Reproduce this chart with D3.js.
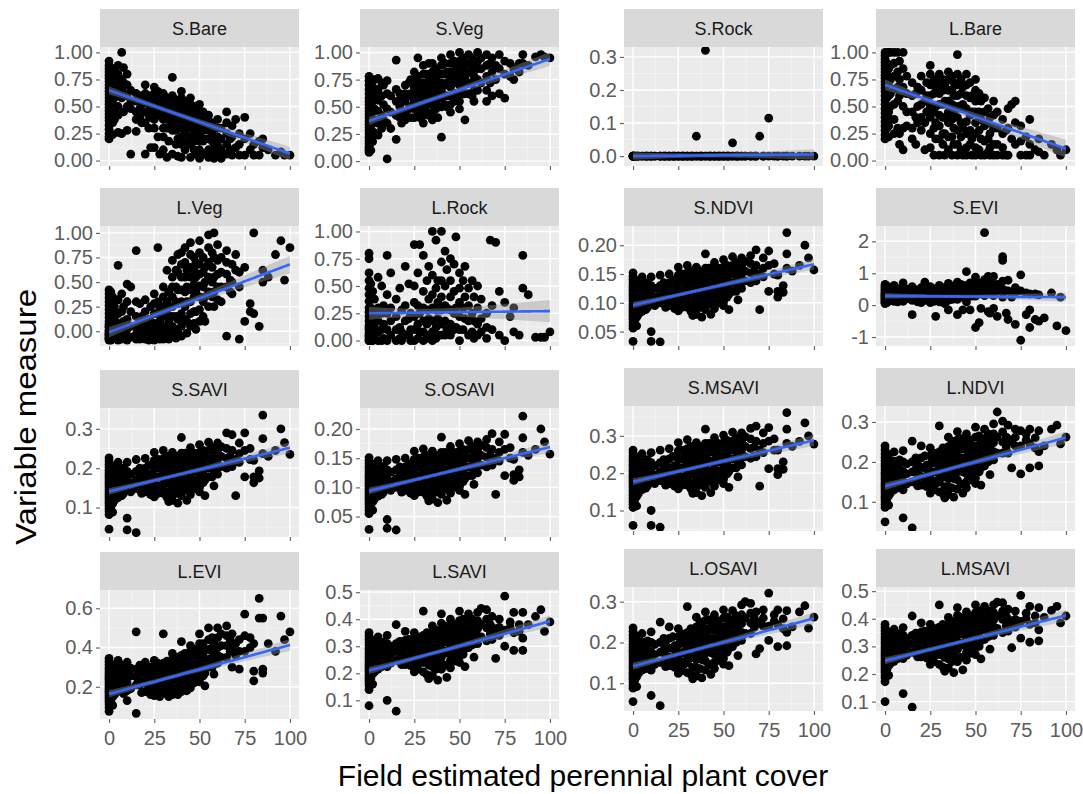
<!DOCTYPE html>
<html><head><meta charset="utf-8">
<script src="https://cdn.jsdelivr.net/npm/d3@7"></script>
<style>
html,body{margin:0;padding:0;background:#fff;}
svg{display:block;font-family:"Liberation Sans",Arial,Helvetica,sans-serif;}
</style></head><body>
<svg id="chart" width="1083" height="794"></svg>
<script>
// Field estimated perennial plant cover (%) levels at which plots were sampled
const coverLevels = [0,1,2,3,5,7,8,10,12,15,17,18,20,22,23,25,27,28,30,32,33,35,37,38,40,42,43,45,47,48,50,52,53,55,57,58,60,62,65,67,68,70,72,75,78,80,83,85,88,92,95,97,100];

const panelNames = ["S.Bare","S.Veg","S.Rock","L.Bare","L.Veg","L.Rock","S.NDVI","S.EVI","S.SAVI","S.OSAVI","S.MSAVI","L.NDVI","L.EVI","L.SAVI","L.OSAVI","L.MSAVI"];

// Variable measures: one inner list per cover level, in coverLevels order
const sBare = [
[0.92,0.88,0.85,0.82,0.79,0.76,0.73,0.70,0.67,0.64,0.61,0.58,0.55,0.52,0.49,0.46,0.43,0.40,0.37,0.33,0.29,0.25,0.22,0.20],[0.86,0.80,0.72,0.65,0.56,0.48,0.40],[0.78,0.70,0.62,0.52,0.44,0.35,0.24],[0.84,0.74,0.66,0.58,0.47,0.38],[0.88,0.80,0.70,0.60,0.50,0.42,0.26],[1.00,0.75,0.66,0.58,0.25],[0.86,0.72,0.62,0.45],[0.80,0.70,0.60,0.50,0.28],[0.06,0.65,0.55,0.48],[0.62,0.55,0.45,0.38,0.27],
[0.55,0.48,0.40],[0.60,0.52,0.35],[0.70,0.62,0.55,0.45,0.35,0.06],[0.60,0.52,0.42,0.30],[0.55,0.48,0.40,0.12],[0.68,0.62,0.56,0.50,0.44,0.38,0.30,0.12],[0.64,0.58,0.50,0.42,0.22],[0.60,0.52,0.45,0.06],[0.62,0.56,0.50,0.44,0.38,0.30,0.22,0.10],[0.58,0.52,0.46,0.38,0.30,0.03],
[0.55,0.48,0.40,0.30,0.18],[0.77,0.60,0.54,0.48,0.42,0.35,0.28,0.06],[0.56,0.50,0.44,0.36,0.28,0.15],[0.52,0.46,0.40,0.30,0.20,0.04],[0.64,0.58,0.50,0.44,0.38,0.30,0.22,0.15,0.03],[0.55,0.48,0.42,0.34,0.26,0.10],[0.45,0.38,0.30,0.18],[0.58,0.52,0.45,0.38,0.30,0.22,0.15,0.03],[0.50,0.42,0.35,0.27,0.18,0.10],[0.40,0.32,0.22,0.06],
[0.52,0.46,0.38,0.32,0.25,0.18,0.10,0.02],[0.45,0.38,0.28,0.18],[0.40,0.30,0.20,0.06],[0.42,0.36,0.28,0.20,0.10,0.03],[0.35,0.26,0.18,0.08],[0.30,0.22,0.12,0.02],[0.38,0.30,0.22,0.14,0.05],[0.30,0.20,0.10,0.02],[0.45,0.35,0.25,0.15,0.06],[0.20,0.10],
[0.32,0.22,0.05],[0.38,0.12],[0.25,0.15,0.05],[0.40,0.20,0.05],[0.25,0.10],[0.15,0.05],[0.18,0.05],[0.12,0.20],[0.10],[0.05],
[0.08],[0.05],[0.05]];

const sVeg = [
[0.78,0.74,0.70,0.66,0.62,0.58,0.55,0.52,0.49,0.46,0.43,0.40,0.37,0.34,0.31,0.28,0.25,0.22,0.19,0.16,0.13,0.10,0.08,0.12],[0.72,0.60,0.50,0.42,0.32,0.22,0.10],[0.68,0.55,0.45,0.36,0.27,0.18],[0.75,0.62,0.48,0.38,0.26],[0.76,0.66,0.56,0.46,0.35,0.24],[0.72,0.60,0.42,0.30],[0.70,0.52,0.38],[0.74,0.62,0.48,0.35,0.02],[0.60,0.45,0.30],[0.93,0.66,0.55,0.42,0.20],
[0.62,0.50,0.40],[0.58,0.45,0.35],[0.70,0.62,0.55,0.45,0.38],[0.72,0.60,0.48],[0.75,0.62,0.50,0.40],[0.82,0.75,0.68,0.62,0.55,0.48,0.40],[0.95,0.78,0.65,0.55,0.45],[0.72,0.62,0.50,0.40],[0.88,0.80,0.72,0.65,0.58,0.50,0.42,0.35],[0.80,0.72,0.62,0.52,0.45],
[0.90,0.78,0.65,0.55,0.42],[0.90,0.82,0.75,0.68,0.60,0.52,0.45,0.38],[0.85,0.75,0.65,0.55,0.48],[0.80,0.70,0.60,0.50,0.40],[0.95,0.88,0.80,0.72,0.65,0.58,0.50,0.22],[0.90,0.80,0.70,0.60,0.52],[0.82,0.72,0.60,0.50],[0.98,0.90,0.82,0.75,0.68,0.60,0.52,0.45],[0.92,0.82,0.72,0.62,0.55],[0.88,0.75,0.62],
[1.00,0.92,0.85,0.78,0.70,0.62,0.55,0.48],[0.95,0.85,0.72,0.62],[0.90,0.78,0.62,0.38],[0.98,0.90,0.82,0.72,0.62],[0.95,0.85,0.72,0.60],[0.90,0.78,0.65,0.55],[1.00,0.92,0.85,0.75,0.65],[0.95,0.85,0.72],[0.98,0.88,0.78,0.65,0.55],[0.90,0.72],
[0.95,0.82,0.60],[0.88,0.75],[0.98,0.85,0.62],[0.92,0.80,0.58],[0.90,0.78],[0.85,0.75],[0.82,0.90],[0.98,0.90],[0.88],[0.96],
[0.98],[0.96],[0.95]];

const sRock = [
[0,0,0,0,0,0],[0,0],[0,0],[0,0],[0,0],[0,0],[0,0],[0,0,0],[0,0],[0,0,0],
[0,0],[0,0],[0,0,0],[0,0],[0,0],[0,0,0],[0,0],[0,0],[0,0,0],[0,0],
[0,0],[0.06,0,0],[0,0],[0,0],[0.32,0,0],[0,0],[0,0],[0,0,0],[0,0],[0,0],
[0,0,0],[0,0],[0,0],[0.04,0,0],[0,0],[0,0],[0,0],[0,0],[0,0],[0],
[0,0],[0.06],[0,0],[0.115,0],[0],[0,0],[0],[0,0],[0],[0],
[0],[0],[0]];

const lBare = [
[1.00,0.97,0.94,0.91,0.88,0.85,0.82,0.79,0.76,0.73,0.70,0.67,0.64,0.60,0.56,0.52,0.48,0.44,0.40,0.36,0.32,0.28,0.24,0.20],[1.00,0.90,0.80,0.70,0.58,0.45,0.30],[1.00,0.85,0.72,0.60,0.45,0.32,0.22],[1.00,0.88,0.75,0.62,0.50,0.38],[1.00,0.90,0.78,0.66,0.52,0.38,0.25],[1.00,0.82,0.68,0.55,0.30],[0.92,0.75,0.60,0.25,0.15],[1.00,0.85,0.68,0.50,0.30,0.10],[0.78,0.62,0.45,0.32],[0.72,0.60,0.45,0.30,0.20],
[0.62,0.40,0.15],[0.68,0.50,0.35],[0.78,0.65,0.52,0.40,0.28],[0.55,0.35,0.10],[0.72,0.60,0.45],[0.88,0.80,0.70,0.60,0.50,0.40,0.25,0.12],[0.75,0.62,0.45,0.30,0.05],[0.68,0.50,0.35,0.20],[0.80,0.72,0.62,0.52,0.42,0.32,0.20,0.05],[0.75,0.65,0.52,0.40,0.25,0.15],
[0.70,0.55,0.40,0.25,0.05],[0.82,0.75,0.65,0.55,0.45,0.35,0.22,0.10],[0.78,0.65,0.52,0.38,0.22,0.05],[0.72,0.60,0.45,0.30,0.15],[0.98,0.80,0.70,0.60,0.50,0.40,0.28,0.15,0.05],[0.75,0.62,0.48,0.35,0.22,0.10],[0.68,0.52,0.30,0.05],[0.80,0.70,0.60,0.48,0.36,0.25,0.12,0.05],[0.72,0.58,0.42,0.28,0.15],[0.60,0.45,0.20,0.05],
[0.75,0.65,0.55,0.45,0.35,0.25,0.12,0.05],[0.62,0.45,0.28,0.10],[0.55,0.38,0.20,0.05],[0.58,0.45,0.32,0.18,0.05],[0.48,0.35,0.20,0.08],[0.40,0.25,0.12,0.05],[0.55,0.42,0.30,0.15,0.05],[0.45,0.30,0.15,0.05],[0.38,0.25,0.12,0.05],[0.28,0.05],
[0.48,0.30,0.05],[0.52,0.20],[0.55,0.35,0.15],[0.32,0.18,0.05],[0.22,0.05],[0.38,0.15,0.05],[0.10],[0.20,0.08],[0.05],[0.15],
[0.10],[0.05],[0.10]];

const lVeg = [
[0.42,0.38,0.34,0.30,0.26,0.22,0.18,0.14,0.10,0.07,0.04,0.01,-0.02,-0.04,-0.06,-0.08,-0.09,0.05,0.00,-0.03,-0.07],[0.40,0.28,0.15,0.05,-0.02,-0.06,-0.09],[0.35,0.22,0.10,0.02,-0.04,-0.08],[0.25,0.12,0.03,-0.03,-0.07],[0.67,0.32,0.18,0.08,0.00,-0.05,-0.09],[0.38,0.20,0.05,-0.03,-0.08],[0.25,0.10,-0.02,-0.07],[0.48,0.30,0.12,0.02,-0.05,-0.09],[0.45,0.20,0.05,-0.06],[0.82,0.30,0.15,0.04,-0.03,-0.08],
[0.28,0.08,-0.04,-0.08],[0.15,0.02,-0.06],[0.32,0.20,0.08,-0.02,-0.08],[0.12,0.02,-0.05,-0.09],[0.25,0.10,-0.03,-0.08],[0.38,0.28,0.18,0.08,0.00,-0.05,-0.09],[0.85,0.30,0.18,0.05,-0.06],[0.22,0.10,-0.02,-0.08],[0.45,0.35,0.25,0.15,0.05,-0.03,-0.08],[0.62,0.30,0.18,0.05,-0.05],
[0.40,0.25,0.10,-0.02,-0.08],[0.72,0.55,0.45,0.35,0.25,0.15,0.05,-0.04],[0.62,0.45,0.30,0.15,0.02,-0.07],[0.78,0.60,0.42,0.28,0.12,0.00],[0.80,0.68,0.55,0.42,0.30,0.18,0.05,-0.05],[0.85,0.70,0.55,0.40,0.25,0.12],[0.62,0.45,0.30,0.10,-0.02],[0.90,0.78,0.65,0.55,0.42,0.30,0.18,0.05],[0.75,0.62,0.48,0.35,0.20,0.08],[0.70,0.55,0.40,0.20,0.02],
[0.92,0.80,0.68,0.58,0.46,0.35,0.22,0.10],[0.75,0.60,0.45,0.30,0.15],[0.65,0.50,0.35,0.10],[0.98,0.85,0.70,0.55,0.40,0.25],[0.80,0.65,0.50,0.35],[1.00,0.75,0.55,0.40,0.25],[0.88,0.72,0.58,0.45,0.32],[0.75,0.60,0.45,0.30],[0.82,0.70,0.58,0.45,-0.05],[0.52,0.40],
[0.68,0.50,0.38],[0.78,0.62],[0.60,0.45,-0.08],[0.65,0.10],[0.28,0.20],[1.00,0.18],[0.05],[0.62,0.50],[0.55],[0.78],
[0.92],[0.52],[0.85]];

const lRock = [
[0.80,0.75,0.62,0.55,0.48,0.42,0.36,0.30,0.26,0.22,0.18,0.14,0.10,0.07,0.04,0.02,0.00,0.00,0.12,0.05],[0.52,0.30,0.20,0.10,0.03,0.00],[0.45,0.25,0.15,0.05,0.00],[0.38,0.22,0.12,0.02],[0.58,0.30,0.18,0.08,0.00],[0.50,0.25,0.10,0.00],[0.32,0.15,0.02],[0.78,0.42,0.25,0.10,0.00],[0.62,0.30,0.18,0.05],[0.38,0.22,0.10,0.00],
[0.48,0.12,0.02],[0.28,0.08,0.00],[0.68,0.32,0.18,0.05],[0.52,0.20,0.05],[0.25,0.10,0.00],[0.88,0.50,0.35,0.22,0.10,0.00],[0.62,0.32,0.15,0.02],[0.88,0.25,0.08],[0.78,0.45,0.30,0.18,0.08,0.00],[0.55,0.28,0.15,0.02],
[0.68,0.38,0.20,0.05],[1.00,0.60,0.42,0.30,0.18,0.08,0.00],[0.92,0.48,0.28,0.12,0.02],[0.55,0.35,0.20,0.05],[1.00,0.72,0.55,0.40,0.28,0.15,0.05],[0.82,0.50,0.32,0.18,0.05],[0.65,0.30,0.10],[0.75,0.55,0.40,0.28,0.15,0.05],[0.70,0.45,0.25,0.10],[0.95,0.30,0.12],
[0.62,0.48,0.35,0.22,0.10,0.00],[0.55,0.30,0.10],[0.68,0.40,0.20],[0.48,0.32,0.18,0.05],[0.55,0.25,0.08],[0.40,0.18,0.02],[0.50,0.30,0.15,0.05],[0.38,0.20,0.08],[0.25,0.12,0.02],[0.92],
[0.32,0.10],[0.90],[0.45,0.05],[0.35,0.00],[0.22],[0.30,0.08],[0.05],[0.78,0.48],[0.42],[0.03],
[0.03],[0.03],[0.08]];

const sNdvi = [
[0.152,0.146,0.141,0.136,0.131,0.127,0.123,0.119,0.115,0.111,0.107,0.103,0.099,0.095,0.091,0.087,0.083,0.079,0.075,0.071,0.066,0.061,0.056,0.033],[0.140,0.128,0.118,0.108,0.098,0.085,0.070],[0.135,0.122,0.110,0.100,0.088,0.075,0.060],[0.130,0.118,0.105,0.095,0.080],[0.145,0.132,0.120,0.108,0.096,0.085],[0.130,0.115,0.100,0.088],[0.135,0.120,0.105,0.092],[0.145,0.130,0.115,0.100,0.050,0.033],[0.125,0.110,0.095],[0.148,0.130,0.115,0.100,0.032],
[0.135,0.118,0.100],[0.125,0.108,0.092],[0.150,0.135,0.122,0.108,0.095],[0.140,0.120,0.102],[0.125,0.108,0.090],[0.162,0.148,0.135,0.122,0.110,0.098,0.086],[0.150,0.135,0.120,0.105,0.092],[0.138,0.120,0.100],[0.165,0.152,0.140,0.128,0.116,0.104,0.092],[0.155,0.140,0.125,0.110,0.085],
[0.145,0.128,0.112,0.095,0.078],[0.162,0.150,0.138,0.126,0.114,0.102,0.090,0.080],[0.155,0.140,0.125,0.110,0.092],[0.148,0.132,0.116,0.100,0.075],[0.185,0.160,0.148,0.136,0.124,0.112,0.100,0.088],[0.160,0.145,0.130,0.115,0.098],[0.150,0.130,0.110,0.080],[0.170,0.158,0.146,0.134,0.122,0.110,0.098,0.090],[0.160,0.145,0.130,0.115,0.100],[0.150,0.132,0.115,0.105],
[0.175,0.162,0.150,0.138,0.126,0.114,0.102,0.095],[0.165,0.145,0.125,0.110],[0.155,0.135,0.115,0.088],[0.180,0.165,0.150,0.135,0.120],[0.170,0.152,0.135,0.120],[0.160,0.142,0.125,0.105],[0.178,0.165,0.150,0.138,0.125],[0.172,0.155,0.138],[0.182,0.168,0.152,0.135],[0.155,0.140],
[0.192,0.165,0.138],[0.088,0.150],[0.178,0.160,0.145],[0.190,0.165,0.120],[0.168,0.150],[0.148,0.120,0.110],[0.130,0.118],[0.222,0.185,0.160],[0.155],[0.165],
[0.200],[0.178],[0.157]];

const sEvi = [
[0.65,0.60,0.55,0.50,0.46,0.42,0.38,0.35,0.32,0.29,0.26,0.23,0.20,0.17,0.14,0.11,0.08,0.05],[0.60,0.48,0.38,0.28,0.18,0.08],[0.55,0.42,0.32,0.22,0.12],[0.50,0.38,0.26,0.15],[0.62,0.48,0.36,0.25,0.12],[0.52,0.38,0.22,0.10],[0.45,0.30,0.15],[0.70,0.52,0.38,0.25,0.12],[0.50,0.35,0.20],[0.58,0.42,0.28,0.15,-0.30],
[0.48,0.32,0.18],[0.40,0.25,0.10],[0.55,0.42,0.30,0.18,0.08],[0.72,0.40,0.22],[0.45,0.30,0.15],[0.58,0.48,0.38,0.28,0.18,0.08],[0.52,0.38,0.25,0.12],[0.42,0.28,-0.35],[0.62,0.50,0.40,0.30,0.20,0.10],[0.55,0.42,0.30,0.18],
[0.48,0.35,0.22,0.05],[0.68,0.55,0.45,0.35,0.25,0.15,-0.15],[0.55,0.42,0.30,0.18],[0.60,0.45,0.32,0.20],[0.72,0.60,0.48,0.38,0.28,0.18,-0.30],[0.65,0.50,0.38,0.25],[0.52,0.38,-0.15],[1.05,0.62,0.50,0.40,0.30,0.20,0.10],[0.70,0.55,0.42,-0.15],[0.58,0.42,0.28],
[0.88,0.65,0.52,0.40,0.28,-0.70],[0.70,0.50,0.35,-0.55],[0.55,0.40,-0.10],[2.27,0.80,0.60,0.45,0.30],[0.90,0.60,0.40,-0.20],[0.70,0.50,0.35,-0.25],[0.90,0.65,0.48,0.30,-0.10],[0.65,0.45,-0.35],[1.52,1.40,0.75,0.50,0.25],[0.45,-0.25],
[0.78,0.45,-0.45],[0.40,0.25],[0.55,0.40,-0.60],[0.95,0.45,-1.10],[0.38,-0.30],[0.35,-0.15,-0.70],[0.35,-0.45],[0.32,-0.50],[-0.40],[0.38],
[-0.65],[0.25],[-0.80]];

const sSavi = [
[0.226,0.218,0.210,0.202,0.195,0.188,0.182,0.176,0.170,0.164,0.158,0.152,0.146,0.140,0.134,0.128,0.122,0.116,0.110,0.104,0.097,0.090,0.082,0.045],[0.208,0.190,0.175,0.160,0.145,0.125,0.102],[0.200,0.180,0.162,0.148,0.130,0.110,0.088],[0.192,0.175,0.156,0.140,0.118],[0.215,0.195,0.178,0.160,0.142,0.125],[0.192,0.170,0.148,0.130],[0.200,0.178,0.155,0.136],[0.215,0.192,0.170,0.148,0.073,0.043],[0.185,0.162,0.140],[0.222,0.192,0.170,0.148,0.036],
[0.200,0.175,0.148],[0.185,0.160,0.136],[0.225,0.200,0.180,0.160,0.140],[0.208,0.178,0.150],[0.185,0.160,0.133],[0.240,0.220,0.200,0.180,0.162,0.145,0.127],[0.222,0.200,0.178,0.155,0.136],[0.205,0.178,0.148],[0.245,0.225,0.207,0.190,0.172,0.154,0.136],[0.230,0.207,0.185,0.163,0.126],
[0.215,0.190,0.166,0.140,0.115],[0.240,0.222,0.204,0.186,0.168,0.150,0.133,0.118],[0.230,0.207,0.185,0.163,0.136],[0.220,0.195,0.172,0.148,0.111],[0.278,0.238,0.220,0.202,0.184,0.166,0.148,0.130],[0.238,0.215,0.193,0.170,0.145],[0.222,0.193,0.163,0.118],[0.252,0.234,0.216,0.198,0.180,0.163,0.145,0.133],[0.238,0.215,0.193,0.170,0.148],[0.222,0.196,0.170,0.155],
[0.260,0.240,0.222,0.204,0.186,0.168,0.151,0.140],[0.245,0.215,0.185,0.163],[0.230,0.200,0.170,0.130],[0.266,0.245,0.222,0.200,0.178],[0.252,0.225,0.200,0.178],[0.238,0.210,0.185,0.155],[0.264,0.245,0.222,0.204,0.185],[0.255,0.230,0.204],[0.290,0.250,0.225,0.200],[0.230,0.207],
[0.285,0.245,0.204],[0.130,0.222],[0.264,0.237,0.215],[0.290,0.245,0.178],[0.250,0.222],[0.220,0.178,0.163],[0.193,0.175],[0.335,0.275,0.237],[0.230],[0.245],
[0.300],[0.265],[0.235]];

const sOsavi = [
[0.151,0.146,0.141,0.136,0.132,0.127,0.123,0.119,0.115,0.111,0.107,0.103,0.099,0.095,0.091,0.087,0.083,0.079,0.075,0.071,0.066,0.061,0.055,0.028],[0.141,0.128,0.118,0.108,0.098,0.085,0.071],[0.136,0.122,0.110,0.100,0.088,0.075,0.061],[0.131,0.118,0.105,0.095,0.080],[0.146,0.132,0.120,0.108,0.096,0.085],[0.131,0.115,0.100,0.088],[0.136,0.120,0.105,0.092],[0.146,0.130,0.115,0.100,0.045,0.030],[0.126,0.110,0.095],[0.148,0.130,0.115,0.100,0.027],
[0.135,0.118,0.100],[0.126,0.108,0.092],[0.150,0.135,0.122,0.108,0.095],[0.140,0.120,0.102],[0.126,0.108,0.090],[0.162,0.148,0.135,0.122,0.110,0.098,0.086],[0.150,0.135,0.120,0.105,0.092],[0.138,0.120,0.100],[0.166,0.152,0.140,0.128,0.116,0.104,0.092],[0.155,0.140,0.125,0.110,0.085],
[0.145,0.128,0.112,0.095,0.077],[0.162,0.150,0.138,0.126,0.114,0.102,0.090,0.080],[0.155,0.140,0.125,0.110,0.092],[0.148,0.132,0.116,0.100,0.074],[0.186,0.160,0.148,0.136,0.124,0.112,0.100,0.088],[0.160,0.145,0.130,0.115,0.098],[0.150,0.130,0.110,0.078],[0.170,0.158,0.146,0.134,0.122,0.110,0.098,0.090],[0.160,0.145,0.130,0.115,0.100],[0.150,0.132,0.115,0.105],
[0.175,0.162,0.150,0.138,0.126,0.114,0.102,0.095],[0.165,0.145,0.125,0.110],[0.155,0.135,0.115,0.088],[0.180,0.165,0.150,0.135,0.120],[0.170,0.152,0.135,0.120],[0.160,0.142,0.125,0.105],[0.178,0.165,0.150,0.138,0.125],[0.172,0.155,0.138],[0.182,0.168,0.152,0.135],[0.155,0.140],
[0.192,0.165,0.138],[0.088,0.150],[0.178,0.160,0.145],[0.191,0.165,0.120],[0.168,0.150],[0.148,0.122,0.112],[0.130,0.118],[0.222,0.185,0.160],[0.155],[0.165],
[0.200],[0.178],[0.157]];

const sMsavi = [
[0.262,0.254,0.246,0.238,0.231,0.224,0.217,0.210,0.204,0.198,0.192,0.186,0.180,0.174,0.168,0.161,0.154,0.147,0.140,0.133,0.125,0.117,0.108,0.060],[0.245,0.225,0.208,0.192,0.175,0.155,0.130],[0.236,0.215,0.196,0.180,0.160,0.138,0.112],[0.228,0.208,0.188,0.170,0.146],[0.252,0.230,0.212,0.194,0.175,0.156],[0.226,0.204,0.180,0.160],[0.236,0.212,0.188,0.166],[0.255,0.228,0.204,0.180,0.100,0.060],[0.220,0.195,0.172],[0.262,0.228,0.204,0.180,0.055],
[0.236,0.210,0.180],[0.220,0.194,0.168],[0.266,0.238,0.215,0.194,0.172],[0.245,0.212,0.182],[0.220,0.194,0.165],[0.282,0.260,0.238,0.216,0.196,0.178,0.158],[0.262,0.238,0.214,0.190,0.168],[0.242,0.214,0.182],[0.290,0.266,0.246,0.226,0.206,0.188,0.168],[0.272,0.246,0.222,0.198,0.158],
[0.255,0.228,0.202,0.174,0.146],[0.282,0.262,0.242,0.222,0.202,0.184,0.165,0.148],[0.272,0.246,0.222,0.198,0.168],[0.260,0.234,0.208,0.182,0.140],[0.318,0.280,0.260,0.240,0.220,0.200,0.180,0.162],[0.280,0.255,0.230,0.205,0.178],[0.262,0.232,0.198,0.148],[0.295,0.275,0.255,0.235,0.215,0.196,0.178,0.165],[0.280,0.255,0.230,0.205,0.182],[0.262,0.234,0.205,0.188],
[0.302,0.282,0.262,0.242,0.222,0.202,0.184,0.172],[0.288,0.255,0.222,0.198],[0.270,0.238,0.205,0.162],[0.310,0.286,0.262,0.238,0.214],[0.295,0.266,0.238,0.214],[0.280,0.250,0.222,0.190],[0.308,0.286,0.262,0.242,0.222],[0.298,0.272,0.244],[0.320,0.292,0.266,0.240],[0.270,0.245],
[0.326,0.286,0.244],[0.165,0.262],[0.308,0.280,0.255],[0.322,0.286,0.212],[0.292,0.262],[0.262,0.212,0.196],[0.230,0.210],[0.362,0.318,0.280],[0.272],[0.285],
[0.335],[0.300],[0.278]];

const lNdvi = [
[0.240,0.230,0.220,0.211,0.203,0.195,0.188,0.181,0.174,0.168,0.162,0.156,0.150,0.144,0.138,0.132,0.126,0.120,0.114,0.108,0.101,0.094,0.086,0.050],[0.220,0.198,0.180,0.162,0.145,0.128,0.108],[0.210,0.190,0.170,0.152,0.135,0.115,0.092],[0.200,0.180,0.160,0.142,0.122],[0.225,0.202,0.182,0.165,0.148,0.130],[0.198,0.176,0.155,0.135],[0.205,0.182,0.160,0.140],[0.228,0.200,0.176,0.152,0.060,0.130],[0.195,0.170,0.145],[0.252,0.200,0.175,0.150,0.035],
[0.210,0.182,0.152],[0.195,0.168,0.140],[0.240,0.210,0.186,0.164,0.142],[0.215,0.185,0.155],[0.192,0.165,0.138],[0.235,0.215,0.195,0.176,0.158,0.140,0.122],[0.222,0.198,0.175,0.152,0.130],[0.205,0.175,0.145],[0.290,0.225,0.205,0.186,0.168,0.150,0.125],[0.235,0.210,0.186,0.162,0.120],
[0.218,0.192,0.165,0.138,0.110],[0.262,0.238,0.218,0.198,0.178,0.158,0.138,0.118],[0.252,0.226,0.200,0.175,0.135],[0.240,0.212,0.185,0.158,0.112],[0.276,0.255,0.235,0.215,0.195,0.175,0.155,0.132],[0.258,0.232,0.206,0.180,0.145],[0.240,0.210,0.175,0.122],[0.270,0.250,0.230,0.210,0.190,0.170,0.150,0.135],[0.255,0.230,0.205,0.180,0.155],[0.240,0.212,0.185,0.165],
[0.287,0.262,0.240,0.220,0.200,0.180,0.160,0.146],[0.265,0.235,0.205,0.175],[0.250,0.218,0.185,0.142],[0.282,0.258,0.234,0.210,0.190],[0.270,0.245,0.220,0.200],[0.258,0.232,0.205,0.168],[0.295,0.270,0.248,0.226,0.205],[0.325,0.262,0.222],[0.302,0.275,0.250,0.222],[0.262,0.238],
[0.292,0.258,0.222],[0.185,0.250],[0.282,0.262,0.240],[0.278,0.240,0.170],[0.270,0.255],[0.282,0.245,0.185],[0.260,0.235],[0.278,0.226,0.190],[0.240],[0.282],
[0.292],[0.245],[0.262]];

const lEvi = [
[0.345,0.330,0.315,0.300,0.288,0.276,0.265,0.254,0.244,0.234,0.224,0.214,0.204,0.195,0.186,0.177,0.168,0.158,0.148,0.138,0.126,0.112,0.095,0.075],[0.315,0.280,0.250,0.222,0.195,0.165,0.130],[0.300,0.268,0.238,0.210,0.180,0.150,0.105],[0.285,0.255,0.225,0.195,0.160],[0.335,0.300,0.268,0.238,0.208,0.178],[0.310,0.275,0.240,0.205],[0.300,0.262,0.225,0.165],[0.325,0.290,0.255,0.220,0.180,0.130],[0.295,0.255,0.190],[0.480,0.290,0.250,0.210,0.065],
[0.310,0.265,0.210],[0.290,0.245,0.170],[0.325,0.290,0.255,0.220,0.175],[0.300,0.255,0.200],[0.280,0.235,0.160],[0.335,0.305,0.275,0.245,0.215,0.185,0.155],[0.320,0.285,0.250,0.215,0.175],[0.300,0.250,0.150],[0.470,0.320,0.290,0.260,0.230,0.200,0.165],[0.330,0.295,0.260,0.225,0.180],
[0.310,0.270,0.230,0.190,0.150],[0.370,0.340,0.310,0.280,0.250,0.220,0.190,0.160],[0.350,0.310,0.270,0.230,0.185],[0.330,0.290,0.250,0.210,0.160],[0.430,0.360,0.330,0.300,0.270,0.240,0.210,0.175],[0.370,0.330,0.290,0.250,0.200],[0.340,0.290,0.240,0.180],[0.410,0.380,0.350,0.320,0.290,0.260,0.225,0.195],[0.390,0.350,0.310,0.270,0.220],[0.360,0.310,0.270,0.235],
[0.470,0.420,0.385,0.350,0.315,0.280,0.250,0.225],[0.420,0.370,0.310,0.255],[0.390,0.330,0.270,0.205],[0.500,0.440,0.390,0.340,0.300],[0.450,0.400,0.350,0.300],[0.420,0.370,0.320,0.265],[0.500,0.450,0.400,0.360,0.320],[0.470,0.410,0.350],[0.510,0.460,0.410,0.350],[0.440,0.380],
[0.470,0.400,0.300],[0.360,0.420],[0.440,0.380,0.290],[0.570,0.460,0.380],[0.450,0.400],[0.420,0.280,0.230],[0.650,0.550],[0.550,0.290,0.270],[0.420],[0.380],
[0.560],[0.440],[0.480]];

const lSavi = [
[0.350,0.338,0.326,0.314,0.303,0.293,0.283,0.273,0.264,0.255,0.246,0.238,0.230,0.222,0.214,0.206,0.198,0.190,0.182,0.174,0.165,0.155,0.140,0.080],[0.325,0.300,0.278,0.256,0.235,0.212,0.180],[0.315,0.290,0.266,0.244,0.222,0.198,0.160],[0.305,0.280,0.255,0.232,0.205],[0.335,0.308,0.284,0.260,0.238,0.215],[0.305,0.278,0.252,0.225],[0.315,0.288,0.260,0.232],[0.340,0.310,0.282,0.255,0.225,0.100],[0.300,0.270,0.238],[0.380,0.310,0.280,0.248,0.060],
[0.318,0.285,0.250],[0.300,0.268,0.232],[0.355,0.322,0.292,0.262,0.232],[0.325,0.290,0.252],[0.300,0.265,0.228],[0.350,0.325,0.300,0.276,0.252,0.228,0.205],[0.335,0.305,0.275,0.245,0.215],[0.315,0.280,0.240],[0.430,0.340,0.315,0.290,0.265,0.240,0.205],[0.350,0.320,0.290,0.260,0.195],
[0.330,0.298,0.265,0.230,0.180],[0.375,0.350,0.325,0.300,0.275,0.250,0.225,0.192],[0.360,0.330,0.300,0.270,0.215],[0.345,0.312,0.278,0.242,0.175],[0.420,0.385,0.360,0.335,0.310,0.285,0.258,0.215],[0.375,0.345,0.315,0.282,0.230],[0.355,0.318,0.275,0.185],[0.400,0.375,0.350,0.325,0.300,0.275,0.248,0.220],[0.380,0.350,0.318,0.285,0.245],[0.360,0.325,0.290,0.265],
[0.430,0.395,0.370,0.345,0.320,0.295,0.265,0.240],[0.400,0.360,0.318,0.270],[0.380,0.338,0.290,0.225],[0.420,0.390,0.360,0.330,0.295],[0.400,0.368,0.335,0.305],[0.380,0.345,0.310,0.260],[0.425,0.395,0.365,0.338,0.310],[0.440,0.380,0.335],[0.435,0.400,0.368,0.320],[0.380,0.345],
[0.410,0.370,0.325],[0.255,0.350],[0.400,0.370,0.340],[0.485,0.360,0.300],[0.390,0.370],[0.425,0.350,0.285],[0.380,0.355],[0.425,0.330,0.285],[0.380],[0.410],
[0.435],[0.355],[0.390]];

const lOsavi = [
[0.236,0.227,0.218,0.210,0.202,0.195,0.188,0.181,0.175,0.169,0.163,0.157,0.151,0.145,0.139,0.133,0.127,0.121,0.115,0.109,0.102,0.095,0.088,0.055],[0.218,0.198,0.180,0.163,0.146,0.128,0.108],[0.208,0.189,0.170,0.153,0.136,0.116,0.092],[0.200,0.180,0.161,0.143,0.124],[0.222,0.201,0.183,0.166,0.149,0.132],[0.198,0.177,0.156,0.136],[0.204,0.183,0.161,0.141],[0.226,0.200,0.177,0.153,0.070,0.132],[0.195,0.170,0.146],[0.250,0.200,0.176,0.151,0.045],
[0.210,0.182,0.153],[0.195,0.168,0.141],[0.238,0.210,0.186,0.164,0.143],[0.214,0.185,0.156],[0.192,0.165,0.139],[0.234,0.214,0.195,0.176,0.158,0.141,0.124],[0.221,0.198,0.175,0.153,0.131],[0.205,0.175,0.146],[0.288,0.224,0.205,0.186,0.168,0.150,0.126],[0.234,0.210,0.186,0.162,0.121],
[0.217,0.192,0.165,0.139,0.111],[0.262,0.238,0.218,0.198,0.178,0.158,0.138,0.118],[0.250,0.225,0.200,0.175,0.136],[0.238,0.212,0.185,0.158,0.113],[0.275,0.254,0.234,0.214,0.194,0.174,0.155,0.133],[0.256,0.231,0.206,0.180,0.146],[0.238,0.210,0.175,0.122],[0.268,0.249,0.229,0.209,0.189,0.170,0.151,0.136],[0.253,0.229,0.205,0.180,0.156],[0.238,0.212,0.185,0.166],
[0.280,0.260,0.239,0.219,0.199,0.180,0.161,0.147],[0.262,0.234,0.205,0.176],[0.248,0.217,0.185,0.143],[0.278,0.256,0.233,0.210,0.190],[0.266,0.243,0.220,0.200],[0.255,0.230,0.205,0.168],[0.292,0.268,0.246,0.225,0.205],[0.300,0.260,0.222],[0.296,0.272,0.248,0.222],[0.260,0.237],
[0.275,0.245,0.172],[0.185,0.250],[0.280,0.260,0.240],[0.321,0.240,0.205],[0.268,0.252],[0.280,0.244,0.190],[0.258,0.234],[0.278,0.225,0.192],[0.238],[0.275],
[0.290],[0.235],[0.262]];

const lMsavi = [
[0.380,0.368,0.356,0.345,0.334,0.324,0.314,0.305,0.296,0.287,0.278,0.270,0.262,0.254,0.246,0.238,0.230,0.222,0.214,0.205,0.196,0.186,0.172,0.100],[0.355,0.330,0.308,0.287,0.266,0.244,0.215],[0.345,0.320,0.297,0.275,0.253,0.230,0.195],[0.335,0.310,0.286,0.263,0.238],[0.362,0.336,0.313,0.290,0.268,0.246],[0.335,0.309,0.283,0.256],[0.345,0.318,0.290,0.262],[0.368,0.340,0.312,0.285,0.256,0.129],[0.330,0.300,0.268],[0.410,0.340,0.310,0.278,0.080],
[0.348,0.315,0.280],[0.330,0.298,0.262],[0.385,0.352,0.322,0.292,0.262],[0.355,0.320,0.282],[0.330,0.295,0.258],[0.380,0.355,0.330,0.306,0.282,0.258,0.235],[0.365,0.335,0.305,0.275,0.245],[0.345,0.310,0.270],[0.450,0.370,0.345,0.320,0.295,0.270,0.235],[0.380,0.350,0.320,0.290,0.225],
[0.360,0.328,0.295,0.260,0.210],[0.405,0.380,0.355,0.330,0.305,0.280,0.255,0.222],[0.390,0.360,0.330,0.300,0.245],[0.375,0.342,0.308,0.272,0.205],[0.440,0.412,0.388,0.364,0.340,0.315,0.288,0.245],[0.405,0.375,0.345,0.312,0.260],[0.385,0.348,0.305,0.215],[0.425,0.402,0.378,0.354,0.330,0.305,0.278,0.250],[0.410,0.380,0.348,0.315,0.275],[0.390,0.355,0.320,0.295],
[0.450,0.422,0.398,0.374,0.350,0.325,0.295,0.270],[0.428,0.390,0.348,0.300],[0.410,0.368,0.320,0.255],[0.445,0.418,0.390,0.360,0.325],[0.428,0.398,0.365,0.335],[0.410,0.375,0.340,0.290],[0.450,0.422,0.395,0.368,0.340],[0.460,0.410,0.365],[0.458,0.428,0.398,0.350],[0.410,0.375],
[0.435,0.398,0.355],[0.295,0.380],[0.428,0.398,0.370],[0.485,0.390,0.330],[0.420,0.400],[0.445,0.380,0.315],[0.410,0.385],[0.440,0.360,0.320],[0.405],[0.430],
[0.445],[0.385],[0.410]];

const panelValues = [sBare, sVeg, sRock, lBare, lVeg, lRock, sNdvi, sEvi, sSavi, sOsavi, sMsavi, lNdvi, lEvi, lSavi, lOsavi, lMsavi];

// Linear trend of each measure: fitted value at 0 % and at 100 % cover
const fitAt0   = [0.65, 0.37, 0.000, 0.70, -0.01, 0.25, 0.096, 0.29, 0.141, 0.094, 0.177, 0.139, 0.164, 0.210, 0.142, 0.248];
const fitAt100 = [0.065, 0.94, 0.005, 0.11, 0.68, 0.27, 0.167, 0.25, 0.252, 0.169, 0.288, 0.261, 0.413, 0.392, 0.259, 0.412];

// Free y limits of each facet
const yLimits = [[-0.05,1.05],[-0.045,1.05],[-0.03,0.33],[-0.05,1.05],[-0.15,1.07],[-0.05,1.05],[0.025,0.2334],[-1.28,2.48],
                 [0.025,0.353],[0.015,0.236],[0.045,0.380],[0.027,0.340],[0.036,0.693],[0.031,0.508],[0.032,0.336],[0.066,0.515]];

const yTickLabels = [
  ["0.00","0.25","0.50","0.75","1.00"], ["0.00","0.25","0.50","0.75","1.00"], ["0.0","0.1","0.2","0.3"], ["0.00","0.25","0.50","0.75","1.00"],
  ["0.00","0.25","0.50","0.75","1.00"], ["0.00","0.25","0.50","0.75","1.00"], ["0.05","0.10","0.15","0.20"], ["-1","0","1","2"],
  ["0.1","0.2","0.3"], ["0.05","0.10","0.15","0.20"], ["0.1","0.2","0.3"], ["0.1","0.2","0.3"],
  ["0.2","0.4","0.6"], ["0.1","0.2","0.3","0.4","0.5"], ["0.1","0.2","0.3"], ["0.1","0.2","0.3","0.4","0.5"]
];
const xTickLabels = ["0","25","50","75","100"];
const xLimits = [-5, 105];

// ---- layout ----
const colX = [[100,299],[360,559],[624,823],[876,1075]];
// per row: [left pair of columns], [right pair of columns] -> [panel top, panel bottom]
const rowY = [
  [[47,166],[47,166]],
  [[226,346],[226,346]],
  [[408,537],[406,531]],
  [[590,719],[587,711]]
];
const stripH = 38;
const tickCol = "#6a6a6a", tickTextCol = "#5c5c5c";

const svg = d3.select("#chart");
const defs = svg.append("defs");

// 95% confidence band of a straight line y = a + b x given the observations
function confidenceBand(pts, a, b, xs) {
  const n = pts.length;
  const mx = d3.mean(pts, p => p.x);
  const sxx = d3.sum(pts, p => (p.x - mx) ** 2);
  const s = Math.sqrt(d3.sum(pts, p => (p.y - a - b * p.x) ** 2) / (n - 2));
  const tq = 1.97;
  return xs.map(xv => {
    const yh = a + b * xv;
    const se = s * Math.sqrt(1 / n + (xv - mx) ** 2 / sxx);
    return { x: xv, yh, lo: yh - tq * se, hi: yh + tq * se };
  });
}

const problems = [];

panelNames.forEach((name, i) => {
  if (panelValues[i].length !== coverLevels.length) problems.push(name + ": " + panelValues[i].length);
  const r = Math.floor(i / 4), c = i % 4, half = c < 2 ? 0 : 1;
  const [x0, x1] = colX[c];
  const [y0, y1] = rowY[r][half];
  const x = d3.scaleLinear().domain(xLimits).range([x0, x1]);
  const y = d3.scaleLinear().domain(yLimits[i]).range([y1, y0]);
  const g = svg.append("g");

  // strip
  g.append("rect").attr("x", x0).attr("y", y0 - stripH).attr("width", x1 - x0).attr("height", stripH).attr("fill", "#d9d9d9");
  g.append("text").attr("x", (x0 + x1) / 2).attr("y", y0 - stripH / 2 + 6.5)
    .attr("text-anchor", "middle").attr("font-size", 18).attr("fill", "#1a1a1a").text(name);

  // panel background + grid
  g.append("rect").attr("x", x0).attr("y", y0).attr("width", x1 - x0).attr("height", y1 - y0).attr("fill", "#ebebeb");
  const yMajor = yTickLabels[i].map(Number);
  const step = yMajor[1] - yMajor[0];
  const yMinor = d3.range(yMajor[0] - step / 2, yLimits[i][1], step).filter(v => v > yLimits[i][0]);
  const xMajor = xTickLabels.map(Number);
  const xMinor = [12.5, 37.5, 62.5, 87.5];
  g.selectAll(".ymin").data(yMinor).join("line")
    .attr("x1", x0).attr("x2", x1).attr("y1", d => y(d)).attr("y2", d => y(d))
    .attr("stroke", "#f7f7f7").attr("stroke-width", 0.7);
  g.selectAll(".xmin").data(xMinor).join("line")
    .attr("y1", y0).attr("y2", y1).attr("x1", d => x(d)).attr("x2", d => x(d))
    .attr("stroke", "#f7f7f7").attr("stroke-width", 0.7);
  g.selectAll(".ymaj").data(yMajor).join("line")
    .attr("x1", x0).attr("x2", x1).attr("y1", d => y(d)).attr("y2", d => y(d))
    .attr("stroke", "#ffffff").attr("stroke-width", 1.4);
  g.selectAll(".xmaj").data(xMajor).join("line")
    .attr("y1", y0).attr("y2", y1).attr("x1", d => x(d)).attr("x2", d => x(d))
    .attr("stroke", "#ffffff").attr("stroke-width", 1.4);

  // clip to the panel
  const clipId = "clip" + i;
  defs.append("clipPath").attr("id", clipId).append("rect")
    .attr("x", x0).attr("y", y0).attr("width", x1 - x0).attr("height", y1 - y0);
  const inner = g.append("g").attr("clip-path", `url(#${clipId})`);

  const pts = [];
  panelValues[i].forEach((vals, k) => vals.forEach(v => pts.push({ x: coverLevels[k], y: v })));

  inner.selectAll("circle").data(pts).join("circle")
    .attr("cx", d => x(d.x)).attr("cy", d => y(d.y)).attr("r", 4.4).attr("fill", "#000");

  // linear trend with its confidence band
  const b = (fitAt100[i] - fitAt0[i]) / 100, a = fitAt0[i];
  const band = confidenceBand(pts, a, b, d3.range(0, 100.01, 1));
  inner.append("path").datum(band)
    .attr("d", d3.area().x(d => x(d.x)).y0(d => y(d.lo)).y1(d => y(d.hi)))
    .attr("fill", "#999999").attr("fill-opacity", 0.4);
  inner.append("path").datum(band)
    .attr("d", d3.line().x(d => x(d.x)).y(d => y(d.yh)))
    .attr("fill", "none").attr("stroke", "#3366ff").attr("stroke-width", 2.6);

  // axes
  const ya = d3.axisLeft(y).tickValues(yMajor)
    .tickFormat(d => yTickLabels[i][yMajor.indexOf(d)]).tickSize(4).tickPadding(3);
  const yg = g.append("g").attr("transform", `translate(${x0},0)`).call(ya)
    .attr("font-family", null).attr("font-size", null);
  yg.select(".domain").remove();
  yg.selectAll("line").attr("stroke", tickCol).attr("stroke-width", 1.2);
  yg.selectAll("text").attr("fill", tickTextCol).style("font-size", "20px");

  const xa = d3.axisBottom(x).tickValues(xMajor)
    .tickFormat(r === 3 ? (d => xTickLabels[xMajor.indexOf(d)]) : () => "")
    .tickSize(4).tickPadding(8);
  const xg = g.append("g").attr("transform", `translate(0,${y1})`).call(xa)
    .attr("font-family", null).attr("font-size", null);
  xg.select(".domain").remove();
  xg.selectAll("line").attr("stroke", tickCol).attr("stroke-width", 1.2);
  xg.selectAll("text").attr("fill", tickTextCol).style("font-size", "20px");
});

// axis titles
svg.append("text").attr("transform", "translate(36,417) rotate(-90) scale(1.1,1)")
  .attr("text-anchor", "middle").attr("font-size", 30).attr("fill", "#000").text("Variable measure");
svg.append("text").attr("x", 583).attr("y", 786)
  .attr("text-anchor", "middle").attr("font-size", 30).attr("fill", "#000").text("Field estimated perennial plant cover");

if (problems.length) throw new Error("group count mismatch: " + problems.join(", "));
</script>
</body></html>
